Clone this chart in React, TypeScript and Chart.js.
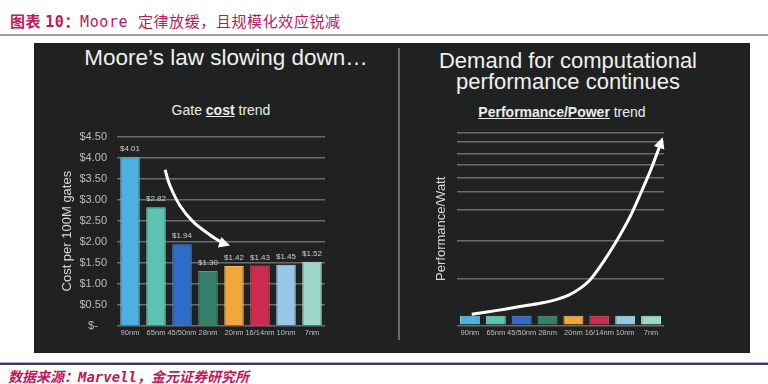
import React, { useEffect, useRef } from 'react';
import { Chart, registerables } from 'chart.js';
Chart.register(...registerables);

// ---- data ----
const nodes = ['90nm', '65nm', '45/50nm', '28nm', '20nm', '16/14nm', '10nm', '7nm'];
const gateCost = [4.01, 2.82, 1.94, 1.3, 1.42, 1.43, 1.45, 1.52];
const costTicks = [0, 0.5, 1, 1.5, 2, 2.5, 3, 3.5, 4, 4.5];
const perfBars = [5, 5, 5, 5, 5, 5, 5, 5];
const perfGrid = [0, 24, 44, 60, 69, 76.5, 83, 89, 95, 100];
// arrow paths (category index, value)
const costArrowIdx = [1.35, 1.54, 1.92, 2.43, 3.08, 3.59, 3.85];
const costArrowVal = [3.71, 3.33, 2.86, 2.47, 2.16, 1.96, 1.91];
const perfArrowIdx = [0.07, 1.0, 1.94, 2.71, 3.3, 3.8, 4.2, 4.64, 5.03, 5.41, 5.8, 6.19, 6.57, 6.96, 7.28, 7.45];
const perfArrowVal = [5.7, 7.6, 9.7, 11.4, 13.2, 15.5, 18.6, 23.5, 30.4, 38.1, 46.8, 56.3, 67.5, 79.6, 90.8, 97.4];

const barColors = ['#4DB0E0', '#5BC4B1', '#2E6CC8', '#35806B', '#F2A63C', '#CE2A50', '#96C8EA', '#9DD7C9'];
const barBorders = ['#7cc6ea', '#86d5c5', '#5a8cd8', '#5d9887', '#f6bf6c', '#dc5c78', '#b5d9f1', '#bde4da'];

const FONT = "'Liberation Sans', Arial, sans-serif";
const GRID = '#6b6b6b';
const TICK = '#bdbdbd';

function drawArrow(chart: any, idx: number[], vals: number[]) {
  const xs = chart.scales.x;
  const ys = chart.scales.y;
  const pts = idx.map((v, i) => ({ x: xs.getPixelForValue(v), y: ys.getPixelForValue(vals[i]) }));
  const n = pts.length;
  const tip = pts[n - 1];
  const prev = pts[n - 2];
  let dx = tip.x - prev.x, dy = tip.y - prev.y;
  const len = Math.hypot(dx, dy) || 1;
  dx /= len; dy /= len;
  const headLen = 11, headW = 5.5;
  const base = { x: tip.x - dx * headLen * 0.7, y: tip.y - dy * headLen * 0.7 };
  const path = pts.slice(0, n - 1).concat([base]);
  const ctx = chart.ctx;
  ctx.save();
  ctx.strokeStyle = '#ffffff';
  ctx.fillStyle = '#ffffff';
  ctx.lineWidth = 3;
  ctx.lineCap = 'butt';
  ctx.lineJoin = 'round';
  ctx.beginPath();
  ctx.moveTo(path[0].x, path[0].y);
  for (let i = 0; i < path.length - 1; i++) {
    const p0 = path[i - 1] || path[i];
    const p1 = path[i];
    const p2 = path[i + 1];
    const p3 = path[i + 2] || p2;
    const c1 = { x: p1.x + (p2.x - p0.x) / 6, y: p1.y + (p2.y - p0.y) / 6 };
    const c2 = { x: p2.x - (p3.x - p1.x) / 6, y: p2.y - (p3.y - p1.y) / 6 };
    ctx.bezierCurveTo(c1.x, c1.y, c2.x, c2.y, p2.x, p2.y);
  }
  ctx.stroke();
  const bx = tip.x - dx * headLen, by = tip.y - dy * headLen;
  ctx.beginPath();
  ctx.moveTo(tip.x, tip.y);
  ctx.lineTo(bx - dy * headW, by + dx * headW);
  ctx.lineTo(bx + dy * headW, by - dx * headW);
  ctx.closePath();
  ctx.fill();
  ctx.restore();
}

function CostChart() {
  const ref = useRef<HTMLCanvasElement>(null);
  useEffect(() => {
    const labelPlugin = {
      id: 'costLabels',
      afterDatasetsDraw(chart: any) {
        const ctx = chart.ctx;
        const meta = chart.getDatasetMeta(0);
        ctx.save();
        ctx.font = `8px ${FONT}`;
        ctx.fillStyle = '#cfcfcf';
        ctx.textAlign = 'center';
        ctx.textBaseline = 'middle';
        meta.data.forEach((bar: any, i: number) => {
          ctx.fillText('$' + gateCost[i].toFixed(2), bar.x, bar.y - 8);
        });
        ctx.restore();
        drawArrow(chart, costArrowIdx, costArrowVal);
      },
    };
    const chart = new Chart(ref.current!, {
      type: 'bar',
      data: {
        labels: nodes,
        datasets: [
          {
            data: gateCost,
            backgroundColor: barColors,
            borderColor: barBorders,
            borderWidth: 1,
            barPercentage: 0.75,
            categoryPercentage: 1,
          },
        ],
      },
      options: {
        responsive: false,
        animation: false,
        layout: { padding: { top: 12.5, right: 45, left: 0, bottom: 0 } },
        plugins: { legend: { display: false }, tooltip: { enabled: false } },
        scales: {
          x: {
            grid: { display: false, drawTicks: false },
            border: { display: false },
            ticks: { color: TICK, font: { family: FONT, size: 7.5 }, padding: 3, autoSkip: false, maxRotation: 0 },
            afterFit: (s: any) => { s.height = 19.3; },
          },
          y: {
            min: 0,
            max: 4.5,
            afterBuildTicks: (s: any) => { s.ticks = costTicks.map((v) => ({ value: v })); },
            grid: { color: GRID, lineWidth: 1.5, drawTicks: false },
            border: { display: false },
            ticks: {
              color: TICK,
              font: { family: FONT, size: 11 },
              padding: 10,
              callback: (v: any) => (Number(v) === 0 ? '$-   ' : '$' + Number(v).toFixed(2)),
            },
            title: {
              display: true,
              text: 'Cost per 100M gates',
              color: '#d8d8d8',
              font: { family: FONT, size: 13 },
              padding: { top: 20, bottom: 0 },
            },
            afterFit: (s: any) => { s.width = 77; },
          },
        },
      },
      plugins: [labelPlugin],
    });
    return () => chart.destroy();
  }, []);
  return <canvas ref={ref} width={330} height={225} style={{ position: 'absolute', left: 40, top: 120, width: 330, height: 225 }} />;
}

function PerfChart() {
  const ref = useRef<HTMLCanvasElement>(null);
  useEffect(() => {
    const arrowPlugin = {
      id: 'perfArrow',
      afterDatasetsDraw(chart: any) {
        drawArrow(chart, perfArrowIdx, perfArrowVal);
      },
    };
    const chart = new Chart(ref.current!, {
      type: 'bar',
      data: {
        labels: nodes,
        datasets: [
          {
            data: perfBars,
            backgroundColor: barColors,
            borderColor: barBorders,
            borderWidth: 1,
            barPercentage: 0.77,
            categoryPercentage: 1,
          },
        ],
      },
      options: {
        responsive: false,
        animation: false,
        layout: { padding: { top: 12.3, right: 21, left: 0, bottom: 0 } },
        plugins: { legend: { display: false }, tooltip: { enabled: false } },
        scales: {
          x: {
            grid: { display: false, drawTicks: false },
            border: { display: false },
            ticks: { color: TICK, font: { family: FONT, size: 7.5 }, padding: 3, autoSkip: false, maxRotation: 0 },
            afterFit: (s: any) => { s.height = 19.7; },
          },
          y: {
            min: 0,
            max: 100,
            afterBuildTicks: (s: any) => { s.ticks = perfGrid.map((v) => ({ value: v })); },
            grid: { color: GRID, lineWidth: 1.5, drawTicks: false },
            border: { display: false },
            ticks: { display: false },
            title: {
              display: true,
              text: 'Performance/Watt',
              color: '#d8d8d8',
              font: { family: FONT, size: 13 },
              padding: { top: 14, bottom: 0 },
            },
            afterFit: (s: any) => { s.width = 37; },
          },
        },
      },
      plugins: [arrowPlugin],
    });
    return () => chart.destroy();
  }, []);
  return <canvas ref={ref} width={265} height={225} style={{ position: 'absolute', left: 420, top: 120, width: 265, height: 225 }} />;
}

const PINK = '#C0185A';
const MONO = "'DejaVu Sans Mono', monospace";
const CJK = "'Noto Sans CJK SC', sans-serif";

export default function App() {
  const abs = (o: any) => ({ position: 'absolute', ...o });
  return (
    <div style={{ position: 'absolute', left: 0, top: 0, width: 768, height: 384, background: '#ffffff', overflow: 'hidden' }}>
      <div style={abs({ left: 10, top: 11, height: 20, lineHeight: '20px', fontSize: 15, letterSpacing: '0.6px', color: PINK, fontFamily: CJK, whiteSpace: 'nowrap' })}>
        <span style={{ fontWeight: 700 }}>图表 </span>
        <span style={{ fontFamily: MONO, fontWeight: 700 }}>10</span>
        <span style={{ fontWeight: 700 }}>：</span>
        <span style={{ fontFamily: MONO }}>Moore </span>
        <span>定律放缓，且规模化效应锐减</span>
      </div>
      <div style={abs({ left: 0, top: 34, width: 768, height: 2, background: '#a0a0a0' })} />

      <div style={abs({ left: 34, top: 43, width: 716, height: 310, background: '#202221' })} />
      <div style={abs({ left: 398, top: 48, width: 2, height: 292, background: '#6a6c6b' })} />

      <div style={abs({ left: 26, top: 45, width: 400, textAlign: 'center', lineHeight: '26px', fontSize: 22.5, color: '#f0f0f0', fontFamily: FONT, whiteSpace: 'nowrap' })}>
        Moore’s law slowing down…
      </div>
      <div style={abs({ left: 121, top: 101, width: 200, textAlign: 'center', lineHeight: '18px', fontSize: 14, color: '#ececec', fontFamily: FONT, whiteSpace: 'nowrap' })}>
        Gate <span style={{ fontWeight: 700, textDecoration: 'underline' }}>cost</span> trend
      </div>

      <div style={abs({ left: 418, top: 50, width: 300, textAlign: 'center', lineHeight: '21px', fontSize: 22, color: '#f0f0f0', fontFamily: FONT, whiteSpace: 'nowrap' })}>
        Demand for computational
        <br />
        performance continues
      </div>
      <div style={abs({ left: 462, top: 103, width: 200, textAlign: 'center', lineHeight: '18px', fontSize: 14, color: '#ececec', fontFamily: FONT, whiteSpace: 'nowrap' })}>
        <span style={{ fontWeight: 700, textDecoration: 'underline' }}>Performance/Power</span> trend
      </div>

      <CostChart />
      <PerfChart />

      <div style={abs({ left: 0, top: 362, width: 768, height: 1, background: '#a8a4c8' })} />
      <div style={abs({ left: 0, top: 363, width: 768, height: 2, background: '#3b3868' })} />
      <div style={abs({ left: 8, top: 366, height: 20, lineHeight: '20px', fontSize: 14, color: PINK, fontFamily: CJK, fontStyle: 'italic', fontWeight: 700, whiteSpace: 'nowrap' })}>
        数据来源：<span style={{ fontFamily: MONO }}>Marvell</span>，金元证券研究所
      </div>
    </div>
  );
}
